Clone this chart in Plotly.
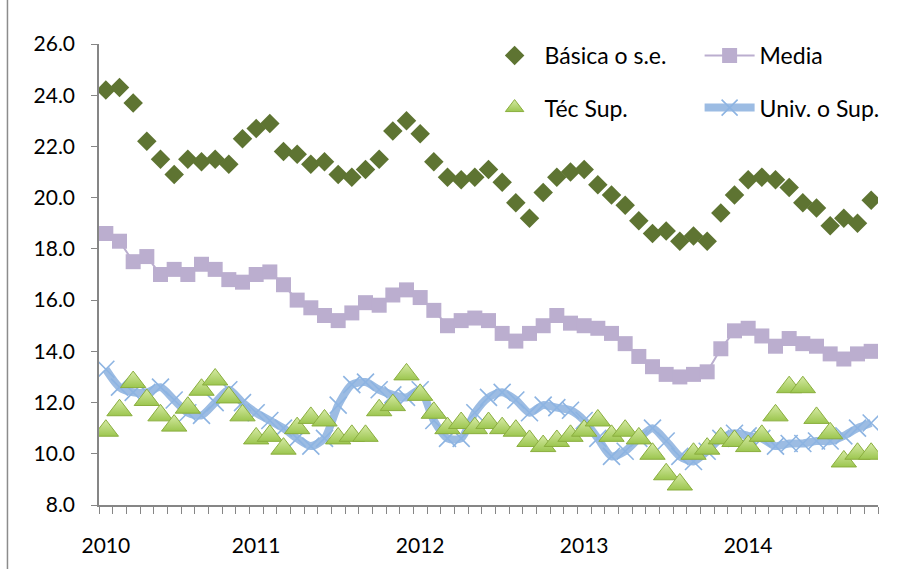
import plotly.graph_objects as go

# ---- data ----
year_labels = ["2010", "2011", "2012", "2013", "2014"]
year_label_index = [0, 11, 23, 35, 47]

basica = [24.2, 24.3, 23.7, 22.2, 21.5, 20.9, 21.5, 21.4, 21.5, 21.3,
          22.3, 22.7, 22.9, 21.8, 21.7, 21.3, 21.4, 20.9, 20.8, 21.1,
          21.5, 22.6, 23.0, 22.5, 21.4, 20.8, 20.7, 20.8, 21.1, 20.6,
          19.8, 19.2, 20.2, 20.8, 21.0, 21.1, 20.5, 20.1, 19.7, 19.1,
          18.6, 18.7, 18.3, 18.5, 18.3, 19.4, 20.1, 20.7, 20.8, 20.7,
          20.4, 19.8, 19.6, 18.9, 19.2, 19.0, 19.9]

media = [18.6, 18.3, 17.5, 17.7, 17.0, 17.2, 17.0, 17.4, 17.2, 16.8,
         16.7, 17.0, 17.1, 16.6, 16.0, 15.7, 15.4, 15.2, 15.5, 15.9,
         15.8, 16.2, 16.4, 16.1, 15.6, 15.0, 15.2, 15.3, 15.2, 14.7,
         14.4, 14.7, 15.0, 15.4, 15.1, 15.0, 14.9, 14.7, 14.3, 13.8,
         13.4, 13.1, 13.0, 13.1, 13.2, 14.1, 14.8, 14.9, 14.6, 14.2,
         14.5, 14.3, 14.2, 13.9, 13.7, 13.9, 14.0]

tec_sup = [10.9, 11.7, 12.8, 12.1, 11.5, 11.1, 11.8, 12.5, 12.9, 12.2,
           11.5, 10.6, 10.7, 10.2, 11.0, 11.4, 11.3, 10.6, 10.7, 10.7,
           11.7, 11.9, 13.1, 12.3, 11.6, 11.0, 11.2, 11.0, 11.2, 11.0,
           10.9, 10.5, 10.3, 10.5, 10.7, 10.9, 11.3, 10.7, 10.9, 10.6,
           10.0, 9.2, 8.8, 10.0, 10.2, 10.6, 10.5, 10.3, 10.7, 11.5,
           12.6, 12.6, 11.4, 10.8, 9.7, 10.0, 10.0]

univ = [13.3, 12.6, 12.4, 12.4, 12.6, 12.1, 11.6, 11.5, 12.0, 12.5,
        12.0, 11.6, 11.3, 11.0, 10.6, 10.3, 10.6, 11.9, 12.7, 12.8,
        12.5, 12.3, 12.2, 12.5, 11.3, 10.6, 10.6, 11.6, 12.2, 12.4,
        12.1, 11.6, 11.9, 11.8, 11.7, 11.3, 10.6, 9.9, 10.1, 10.6,
        11.0, 10.5, 9.9, 9.7, 10.1, 10.6, 10.8, 10.7, 10.6, 10.3,
        10.4, 10.4, 10.5, 10.5, 10.7, 11.0, 11.2]

n = len(basica)
x = list(range(n))

FONT = "Lato, 'Open Sans', sans-serif"
AXIS = "#868686"

fig = go.Figure()

fig.add_trace(go.Scatter(
    x=x, y=basica, name="Básica o s.e.", mode="markers", legend="legend",
    marker=dict(symbol="diamond", size=15, color="#5E7432",
                line=dict(width=0))))

fig.add_trace(go.Scatter(
    x=x, y=media, name="Media", mode="lines+markers", legend="legend2",
    line=dict(color="#BBAECF", width=2),
    marker=dict(symbol="square", size=15, color="#BBAECF",
                line=dict(width=0))))

fig.add_trace(go.Scatter(
    x=x, y=univ, name="Univ. o Sup.", mode="lines+markers", legend="legend4",
    line=dict(color="#9CBCE3", width=8, shape="spline", smoothing=0.7),
    marker=dict(symbol="x-thin", size=17, color="#8DB4E2",
                line=dict(width=1.6, color="#8DB4E2"))))

fig.add_trace(go.Scatter(
    x=x, y=tec_sup, name="Téc Sup.", mode="markers", legend="legend3",
    marker=dict(symbol="triangle-up", size=22, color="#D6EAA5",
                gradient=dict(type="vertical", color="#9CC64F"),
                line=dict(width=1, color="#8AAE3E"))))

leg_common = dict(font=dict(family=FONT, size=23, color="#000000"),
                  bgcolor="rgba(0,0,0,0)", itemwidth=50,
                  yanchor="middle", xanchor="left",
                  orientation="v")

fig.update_layout(
    width=921, height=569,
    margin=dict(l=99, r=43, t=44, b=60),
    paper_bgcolor="white", plot_bgcolor="white",
    font=dict(family=FONT, size=21, color="#000000"),
    showlegend=True,
    legend=dict(x=0.495, y=0.975, **leg_common),
    legend2=dict(x=0.771, y=0.975, **leg_common),
    legend3=dict(x=0.495, y=0.862, **leg_common),
    legend4=dict(x=0.771, y=0.862, **leg_common),
    xaxis=dict(
        range=[-0.5, n - 0.5],
        tickmode="array", tickvals=year_label_index, ticktext=year_labels,
        ticks="", showgrid=False, zeroline=False,
        showline=True, linecolor=AXIS, linewidth=1.5,
        ticklabelstandoff=21,
        tickfont=dict(family=FONT, size=21),
        minor=dict(tickmode="array",
                   tickvals=[k - 0.5 for k in range(n + 1)],
                   ticks="outside", ticklen=7, tickwidth=1.2,
                   tickcolor=AXIS, showgrid=False),
    ),
    yaxis=dict(
        range=[8, 26], tickmode="linear", tick0=8, dtick=2,
        tickformat=".1f", ticks="outside", ticklen=6, tickwidth=1.2,
        tickcolor=AXIS, showgrid=False, zeroline=False,
        showline=True, linecolor=AXIS, linewidth=1.5,
        ticklabelstandoff=12,
        tickfont=dict(family=FONT, size=21),
    ),
    shapes=[dict(type="line", xref="paper", yref="paper",
                 x0=-0.1175, x1=-0.1175, y0=-0.2, y1=1.2,
                 line=dict(color="#8c8c8c", width=1.5))],
)

fig.write_html("out.html",
               config={"displayModeBar": False},
               post_script="document.body.style.margin='0px';")
